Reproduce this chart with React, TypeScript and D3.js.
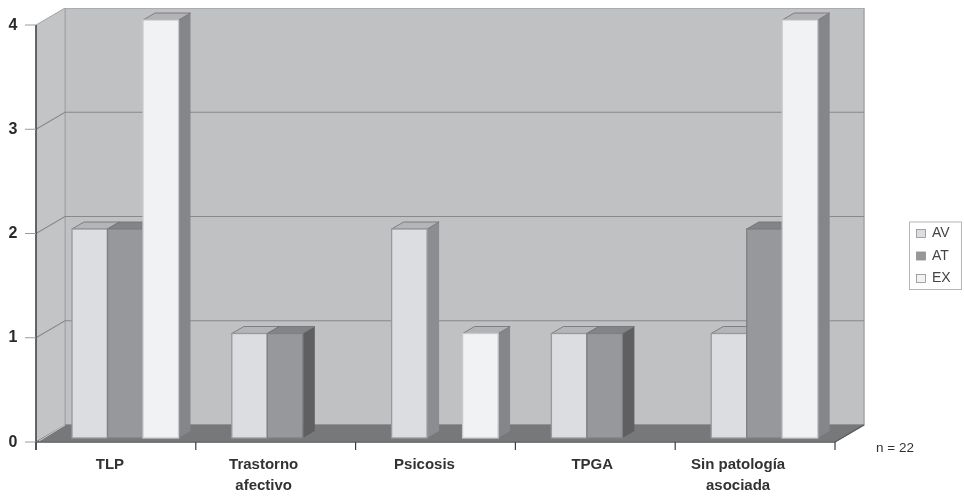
import React from 'react';
import * as d3 from 'd3';

const categories = ['TLP', 'Trastorno|afectivo', 'Psicosis', 'TPGA', 'Sin patología|asociada'];
const seriesNames = ['AV', 'AT', 'EX'];
const av = [2, 1, 2, 1, 1];
const at = [2, 1, 0, 1, 2];
const ex = [4, 0, 1, 0, 4];
const yTicks = [0, 1, 2, 3, 4];

const width = 964;
const height = 496;
const seriesValues = [av, at, ex];
// labels in the original are not centred on their band
const labelShift = [-6, -12, -11, -3, -17];

// front-plane axis and the shift to the back wall
const x = d3.scaleBand<number>().domain(d3.range(categories.length)).range([36, 835]);
const y = d3.scaleLinear().domain([0, 4]).range([442, 25]);
const depthX = 29;
const depthY = -17;

// bars sit a little behind the front plane
const barY = d3.scaleLinear().domain([0, 4]).range([438, 20]);
const inner = d3.scaleBand<number>().domain([0, 1, 2]).range([36, 142.5]);
const barDx = 12;
const barDy = -7;

const colors = {
  front: ['#dcdde0', '#97989c', '#f1f2f4'],
  side: ['#8c8d90', '#5e5f62', '#85868a'],
  top: ['#b4b5b8', '#838487', '#b2b3b6'],
  edge: ['#98999c', '#7f8083', '#c9cacc'],
};

const poly = (pts: [number, number][]) => pts.map(p => p.join(',')).join(' ');

const App: React.FC = () => {
  const x0 = x.range()[0];
  const x1 = x.range()[1];
  const yb = y(0);
  const yt = y(4);

  return (
    <svg width={width} height={height} style={{ position: 'absolute', left: 0, top: 0, background: '#fff' }}>
      <defs>
        <filter id="soft" x="0" y="0" width="100%" height="100%">
          <feGaussianBlur stdDeviation="0.55" />
        </filter>
      </defs>
      <g filter="url(#soft)">
        {/* walls and floor */}
        <rect x={x0 + depthX} y={yt + depthY} width={x1 - x0} height={yb - yt} fill="#c0c1c3" stroke="#a4a5a7" strokeWidth={1.5} />
        <polygon
          points={poly([[x0, yb], [x0 + depthX, yb + depthY], [x0 + depthX, yt + depthY], [x0, yt]])}
          fill="#c3c4c6"
          stroke="#a4a5a7"
        />
        <polygon
          points={poly([[x0, yb], [x1, yb], [x1 + depthX, yb + depthY], [x0 + depthX, yb + depthY]])}
          fill="#77787a"
          stroke="#77787a"
        />
        <line x1={x0 + 3} y1={yb - 1} x2={x0 + depthX} y2={yb + depthY} stroke="#d0d1d3" strokeWidth={1} />

        {/* gridlines */}
        {yTicks.slice(1, 4).map(t => (
          <polyline
            key={t}
            points={poly([[x0, y(t)], [x0 + depthX, y(t) + depthY], [x1 + depthX, y(t) + depthY]])}
            fill="none"
            stroke="#88898c"
            strokeWidth={1.1}
          />
        ))}

        {/* bars */}
        {categories.map((_, c) =>
          seriesValues.map((vals, s) => {
            const v = vals[c];
            if (!v) return null;
            const left = x(c)! + inner(s)!;
            const bw = inner.bandwidth();
            const right = left + bw;
            const top = barY(v);
            const bottom = barY(0);
            return (
              <g key={`${c}-${s}`}>
                <polygon
                  points={poly([[right, bottom], [right + barDx, bottom + barDy], [right + barDx, top + barDy], [right, top]])}
                  fill={colors.side[s]}
                />
                <polygon
                  points={poly([[left, top], [right, top], [right + barDx, top + barDy], [left + barDx, top + barDy]])}
                  fill={colors.top[s]}
                  stroke="#6e6f72"
                  strokeWidth={0.8}
                />
                <rect x={left} y={top} width={bw} height={bottom - top} fill={colors.front[s]} stroke={colors.edge[s]} strokeWidth={1.3} />
              </g>
            );
          })
        )}

        {/* axes */}
        <line x1={x0} y1={yt} x2={x0} y2={yb + 8} stroke="#3c3c3e" strokeWidth={1.4} />
        <line x1={x0} y1={yb} x2={x1} y2={yb} stroke="#6a6b6d" strokeWidth={1.4} />
        <line x1={x1} y1={yb} x2={x1 + depthX} y2={yb + depthY} stroke="#5a5b5d" strokeWidth={1.2} />
        {yTicks.map(t => (
          <g key={t}>
            <line x1={x0 - 11} y1={y(t)} x2={x0} y2={y(t)} stroke="#9a9b9d" strokeWidth={1} />
            <text x={13} y={y(t) + 4.5} textAnchor="middle" fontFamily="Liberation Sans" fontWeight="bold" fontSize={16} fill="#2b2b2b">
              {t}
            </text>
          </g>
        ))}
        {d3.range(categories.length + 1).map(i => {
          const tx = i < categories.length ? x(i)! : x1;
          return <line key={i} x1={tx} y1={yb} x2={tx} y2={yb + 8} stroke="#3c3c3e" strokeWidth={1.2} />;
        })}
        {categories.map((label, c) => (
          <text
            key={label}
            textAnchor="middle"
            fontFamily="Liberation Sans"
            fontWeight="bold"
            fontSize={15}
            fill="#333"
          >
            {label.split('|').map((part, i) => (
              <tspan key={part} x={x(c)! + x.bandwidth() / 2 + labelShift[c]} y={469 + i * 21}>
                {part}
              </tspan>
            ))}
          </text>
        ))}
        <text x={876} y={452} fontFamily="Liberation Sans" fontSize={13.5} fill="#333">n = 22</text>

        {/* legend */}
        <rect x={909.5} y={222} width={52} height={67.5} fill="#fff" stroke="#b5b5b7" strokeWidth={1} />
        {seriesNames.map((name, s) => (
          <g key={name}>
            <rect x={916.5} y={229.5 + s * 22.5} width={9} height={8} fill={colors.front[s]} stroke="#8f9093" strokeWidth={0.8} />
            <text x={932} y={237 + s * 22.5} fontFamily="Liberation Sans" fontSize={14} fill="#444">{name}</text>
          </g>
        ))}
      </g>
    </svg>
  );
};

export default App;
